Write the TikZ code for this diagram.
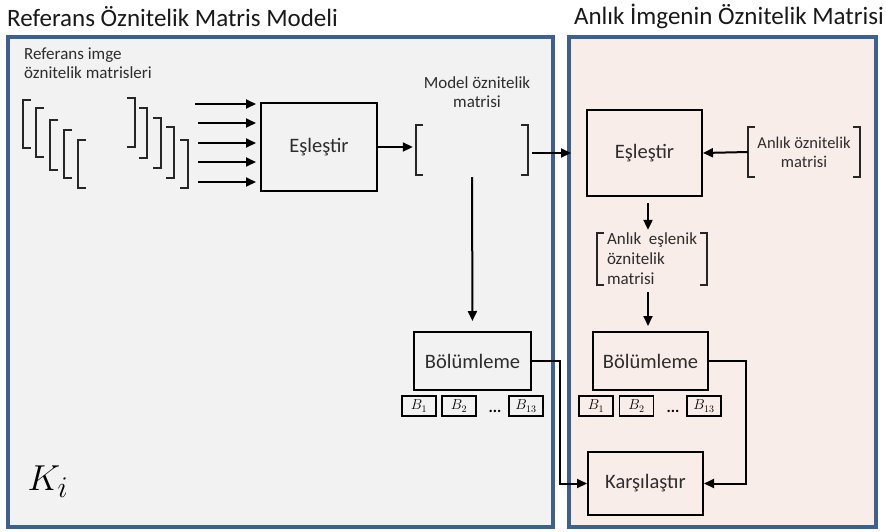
\documentclass[tikz,border=0pt]{standalone}
\usepackage{fontspec}
\setmainfont{Carlito}
\usetikzlibrary{arrows.meta}
\definecolor{panelblue}{RGB}{62,96,143}
\definecolor{leftfill}{RGB}{242,242,242}
\definecolor{rightfill}{RGB}{249,237,234}
\definecolor{txt}{RGB}{45,45,45}
\newcommand{\bkL}[3]{\draw[brk] (#1+8,#2) -- (#1,#2) -- (#1,#3) -- (#1+8,#3);}
\newcommand{\bkR}[3]{\draw[brk] (#1-8,#2) -- (#1,#2) -- (#1,#3) -- (#1-8,#3);}
\newcommand{\bkNode}[1]{%
  \draw[brk] ([xshift=7pt]#1.north west) -- (#1.north west) -- (#1.south west) -- ([xshift=7pt]#1.south west);
  \draw[brk] ([xshift=-7pt]#1.north east) -- (#1.north east) -- (#1.south east) -- ([xshift=-7pt]#1.south east);}
\begin{document}
\begin{tikzpicture}[x=1pt,y=-1pt,
  box/.style={draw=black, line width=2pt, text=txt, font=\fontsize{20.5}{24}\selectfont, inner sep=0},
  panel/.style={draw=panelblue, line width=3.5pt},
  arr/.style={-{Triangle[length=10pt,width=9pt]}, line width=2pt},
  brk/.style={line width=2.2pt, black!85},
  lbl/.style={text=txt, font=\fontsize{17}{19}\selectfont, inner sep=0, align=center},
  slbl/.style={text=txt, font=\fontsize{16.5}{19}\selectfont, inner sep=0},
  ttl/.style={text=black!90, font=\fontsize{25}{28}\selectfont, inner sep=0},
  bb/.style={draw, line width=1.8pt, minimum width=34pt, minimum height=20pt, inner sep=0, font=\fontsize{14}{15}\selectfont},
  brnode/.style={draw=none, inner sep=0}]
\useasboundingbox (0,0) rectangle (886,531);
\fill[white] (0,0) rectangle (886,531);
% panels
\draw[panel, fill=leftfill] (8,37) rectangle (553,527);
\draw[panel, fill=rightfill] (569,37) rectangle (876,527);
% titles
\node[ttl, anchor=west] (t1) at (7,17) {Referans Öznitelik Matris Modeli};
\node[ttl, anchor=east] (t2) at (884,16) {Anlık İmgenin Öznitelik Matrisi};
% reference label
\node[lbl, anchor=north west, align=left] (refl) at (24,48) {Referans imge\\öznitelik matrisleri};
% bracket stack
\bkL{23}{100}{148}
\bkL{36}{108}{157}
\bkL{50}{120}{170}
\bkL{64}{130}{178}
\bkL{78}{140}{188}
\bkR{135}{98}{147}
\bkR{147}{108}{158}
\bkR{161}{118}{168}
\bkR{174}{127}{178}
\bkR{188}{140}{188}
% left Eşleştir
\node[box, minimum width=116pt, minimum height=88pt] (es1) at (319,147) {Eşleştir};
\coordinate (a1) at (195,104);
\coordinate (a2) at (198,123);
\coordinate (a3) at (198,143);
\coordinate (a4) at (198,162);
\coordinate (a5) at (198,182);
\foreach \c in {a1,a2,a3,a4,a5}
  \draw[arr, shorten >=4pt] (\c) -- (\c -| es1.west);
% model matrix
\node[brnode, minimum width=112pt, minimum height=50pt] (mm) at (472,150) {};
\bkNode{mm}
\node[lbl] (mml) at (477,92) {Model öznitelik\\matrisi};
\draw[arr, shorten >=3pt] (es1.east) -- (es1.east -| mm.west);
% right Eşleştir
\node[box, minimum width=115pt, minimum height=86pt] (es2) at (644.5,153) {Eşleştir};
\draw[arr, shorten >=15pt] ([xshift=4pt]mm.east |- es2.west) -- (es2.west);
% Anlık öznitelik matrisi
\node[brnode, minimum width=112pt, minimum height=50pt, slbl, align=center] (ao) at (804,152) {Anlık öznitelik\\matrisi};
\bkNode{ao}
\draw[arr] (ao.west) -- (es2.east);
% Anlık eşlenik öznitelik matrisi
\node[brnode, minimum width=110pt, minimum height=50pt, lbl, align=left, font=\fontsize{17}{20}\selectfont] (am) at (652,259) {Anlık\ \ eşlenik\\öznitelik\\matrisi};
\bkNode{am}
% Bölümleme boxes
\node[box, minimum width=117pt, minimum height=58pt] (bol1) at (472.5,361) {Bölümleme};
\node[box, minimum width=115pt, minimum height=58pt] (bol2) at (650.5,361) {Bölümleme};
\coordinate (ax) at (648,0);
\draw[arr, shorten <=6pt, shorten >=3pt] (es2.south -| ax) -- (am.north -| ax);
\draw[arr, shorten <=7pt, shorten >=5pt] (am.south -| ax) -- (bol2.north -| ax);
\draw[arr, shorten <=2pt, shorten >=10pt] (mm.south) -- (bol1.north);
% B boxes left
\node[bb] (lb1) at (419,406) {$B_1$};
\node[bb] (lb2) at (459,406) {$B_2$};
\node[text=black, font=\fontsize{16}{17}\selectfont\bfseries, inner sep=0] (ld) at (495,411) {...};
\node[bb] (lb13) at (526,406) {$B_{13}$};
% B boxes right
\node[bb] (rb1) at (596,406) {$B_1$};
\node[bb] (rb2) at (636.5,406) {$B_2$};
\node[text=black, font=\fontsize{16}{17}\selectfont\bfseries, inner sep=0] (rd) at (673,411) {...};
\node[bb] (rb13) at (704,406) {$B_{13}$};
% Karşılaştır
\node[box, minimum width=115pt, minimum height=63pt] (kar) at (645.5,483.5) {Karşılaştır};
\coordinate (c1) at (560,0);
\coordinate (c2) at (746,0);
\draw[arr] (bol1.east) -| (c1 |- kar.west) -- (kar.west);
\draw[arr] (bol2.east) -| (c2 |- kar.east) -- (kar.east);
% K_i
\node[inner sep=0, scale=1.45, font=\fontsize{24.88}{28}\selectfont] (ki) at (48,482) {$K_i$};
\end{tikzpicture}
\end{document}
